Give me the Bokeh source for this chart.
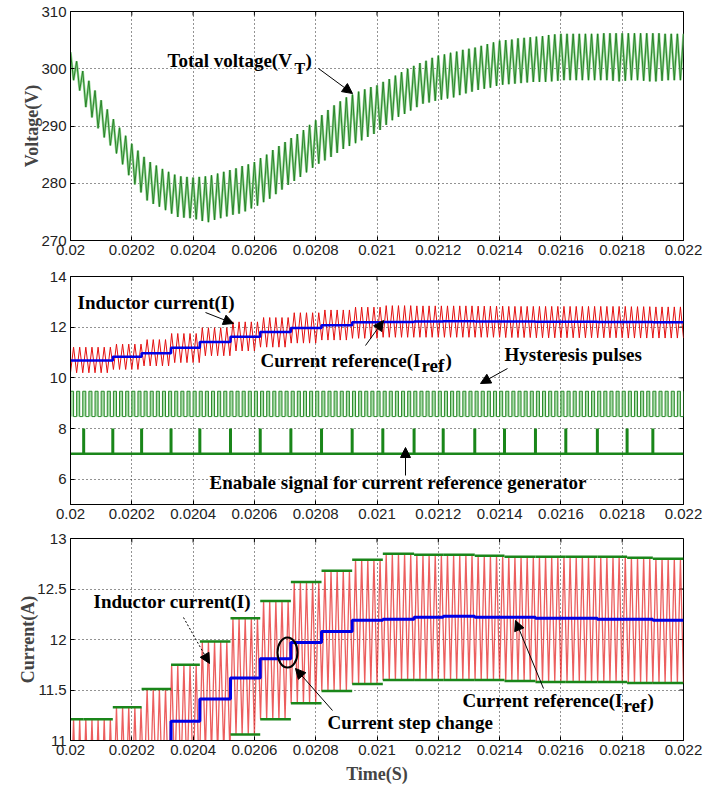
import bisect
from bokeh.plotting import figure
from bokeh.layouts import column
from bokeh.models import FixedTicker, Label, Arrow, NormalHead, Range1d
from bokeh.embed import file_html
from bokeh.resources import INLINE

# ---------------- data ----------------
x_tick_values = [0.02, 0.0202, 0.0204, 0.0206, 0.0208, 0.021, 0.0212, 0.0214, 0.0216, 0.0218, 0.022]
x_tick_labels = ["0.02", "0.0202", "0.0204", "0.0206", "0.0208", "0.021",
                 "0.0212", "0.0214", "0.0216", "0.0218", "0.022"]
v_tick_values = [270, 280, 290, 300, 310]
i2_tick_values = [6, 8, 10, 12, 14]
i3_tick_values = [11, 11.5, 12, 12.5, 13]
i3_tick_labels = ["11", "11.5", "12", "12.5", "13"]

t_start, t_end = 0.02, 0.022
half_period = 1e-5          # ripple / hysteresis half period (20 us cycle)

# total voltage: ripple peak of every cycle (at t_start + k*20us)
v_peaks = [302.9, 301.3, 299.6, 297.9, 296.2, 294.5, 292.9, 291.2, 289.7, 288.3,
           286.9, 285.7, 284.6, 283.7, 283.1, 282.5, 282.0, 281.5, 281.2, 281.1,
           281.0, 281.1, 281.2, 281.4, 281.7, 282.0, 282.3, 282.6, 283.0, 283.3,
           283.7, 284.4, 285.0, 285.8, 286.5, 287.2, 287.9, 288.6, 289.3, 290.2,
           291.0, 291.9, 292.8, 293.6, 294.3, 295.0, 295.5, 296.0, 296.4, 296.8,
           297.1, 297.7, 298.2, 298.8, 299.4, 300.0, 300.5, 301.0, 301.4, 301.9,
           302.3, 302.5, 302.8, 303.0, 303.3, 303.5, 303.7, 304.0, 304.3, 304.6,
           304.9, 305.0, 305.1, 305.3, 305.4, 305.5, 305.6, 305.7, 305.9, 306.0,
           306.1, 306.1, 306.1, 306.1, 306.1, 306.1, 306.1, 306.2, 306.2, 306.2,
           306.2, 306.2, 306.2, 306.2, 306.2, 306.2, 306.2, 306.1, 306.1, 306.1, 306.1]
# total voltage: ripple trough of every cycle (at t_start + 10us + k*20us)
v_troughs = [298.0, 296.2, 293.3, 291.5, 289.6, 288.0, 286.6, 285.2, 283.3, 281.4,
             279.8, 278.4, 277.0, 276.4, 275.9, 275.3, 274.7, 274.1, 274.0, 273.9,
             273.7, 273.4, 273.2, 273.6, 273.9, 274.2, 274.5, 274.7, 275.1, 275.6,
             276.1, 276.7, 277.3, 278.1, 278.9, 279.7, 280.4, 281.1, 281.9, 282.7,
             283.4, 284.0, 284.6, 285.3, 286.0, 286.5, 287.0, 287.5, 288.1, 288.6,
             289.3, 290.2, 291.0, 291.6, 292.1, 292.7, 293.3, 293.9, 294.1, 294.4,
             294.6, 294.8, 295.0, 295.4, 295.7, 296.0, 296.3, 296.5, 296.7, 297.0,
             297.2, 297.3, 297.4, 297.5, 297.6, 297.7, 297.7, 297.7, 297.8, 297.9,
             298.0, 298.0, 298.0, 298.0, 298.0, 298.0, 298.0, 298.0, 297.9, 297.8,
             297.9, 298.0, 298.0, 297.9, 297.8, 297.8, 297.9, 298.0, 298.0, 298.0]

# enable pulses of the current reference generator
enable_times = [0.020043, 0.020138, 0.020232, 0.020328, 0.020422, 0.020522, 0.020619,
                0.020719, 0.020819, 0.020919, 0.021019, 0.021121, 0.021216, 0.021319,
                0.021416, 0.021517, 0.021616, 0.021719, 0.021816, 0.021900]

# per interval between enable pulses (21 intervals)
i_upper = [11.21, 11.21, 11.33, 11.51, 11.75, 11.98, 12.21, 12.38, 12.57, 12.68, 12.79,
           12.85, 12.84, 12.84, 12.83, 12.82, 12.82, 12.82, 12.82, 12.81, 12.80]
i_lower = [10.20, 10.20, 10.33, 10.47, 10.60, 10.87, 11.06, 11.21, 11.37, 11.49, 11.56,
           11.60, 11.60, 11.60, 11.60, 11.59, 11.58, 11.58, 11.58, 11.57, 11.57]
i_ref = [10.68, 10.68, 10.83, 10.97, 11.19, 11.41, 11.62, 11.81, 11.97, 12.08, 12.19,
         12.20, 12.22, 12.23, 12.22, 12.22, 12.21, 12.21, 12.20, 12.20, 12.19]

hyst_low, hyst_high = 8.47, 9.47
enable_low, enable_high = 7.0, 8.0

# ---------------- build traces from the readings ----------------
v_t, v_y = [], []
for k in range(len(v_troughs)):
    v_t += [t_start + 2 * k * half_period, t_start + (2 * k + 1) * half_period]
    v_y += [v_peaks[k], v_troughs[k]]
v_t.append(t_start + 2 * len(v_troughs) * half_period)
v_y.append(v_peaks[len(v_troughs)])

n_half = int(round((t_end - t_start) / half_period))
t_half = [t_start + h * half_period for h in range(n_half + 1)]
cur = []
for h, t in enumerate(t_half):
    k = bisect.bisect_right(enable_times, t)
    cur.append((i_lower if h % 2 == 0 else i_upper)[k])
hyst = [hyst_high if h % 2 == 0 else hyst_low for h in range(n_half + 1)]
bounds = [t_start] + enable_times + [t_end]
ref_y = i_ref + [i_ref[-1]]

SERIF = "Liberation Serif"
SANS = "Liberation Sans"
FRAME_L, FRAME_W = 70, 613
TEXT_SHIFT = 7   # px, raises the labels to the reference baselines


def tx(px):
    return t_start + (px - FRAME_L) * (t_end - t_start) / FRAME_W


def make_fig(height, top, bottom, frame_h, yr, yticks, ylabels=None, ylabel=None, xlabel=None):
    p = figure(width=704, height=height, x_range=Range1d(t_start, t_end),
               y_range=Range1d(*yr), output_backend="svg", toolbar_location=None,
               min_border_left=FRAME_L, min_border_right=704 - FRAME_L - FRAME_W,
               min_border_top=top, min_border_bottom=bottom)
    p.background_fill_color = "white"
    p.border_fill_color = "white"
    p.outline_line_color = "black"
    p.outline_line_alpha = 1
    p.xaxis.ticker = FixedTicker(ticks=x_tick_values)
    p.xaxis.major_label_overrides = {v: l for v, l in zip(x_tick_values, x_tick_labels)}
    p.yaxis.ticker = FixedTicker(ticks=yticks)
    if ylabels:
        p.yaxis.major_label_overrides = {v: l for v, l in zip(yticks, ylabels)}
    p.xgrid.ticker = FixedTicker(ticks=x_tick_values)
    p.ygrid.ticker = FixedTicker(ticks=yticks)
    for g in (p.xgrid, p.ygrid):
        g.grid_line_color = "black"
        g.grid_line_dash = "1 3"
        g.grid_line_alpha = 0.85
        g.grid_line_width = 1
    for ax in (p.xaxis[0], p.yaxis[0]):
        ax.major_label_text_font = SANS
        ax.major_label_text_font_size = "15px"
        ax.major_label_text_color = "#222222"
        ax.axis_line_color = "black"
        ax.major_tick_in = 4
        ax.major_tick_out = 0
        ax.major_tick_line_color = "black"
        ax.minor_tick_line_color = None
        ax.major_label_standoff = 4
        ax.axis_label_text_font = SERIF
        ax.axis_label_text_font_style = "bold"
        ax.axis_label_text_font_size = "18px"
    if ylabel:
        p.yaxis.axis_label = ylabel
        p.yaxis.axis_label_standoff = -4
    if xlabel:
        p.xaxis.axis_label = xlabel
        p.xaxis.axis_label_standoff = 6
    # mirrored tick marks on the top and right edges
    dy = 4 * (yr[1] - yr[0]) / frame_h
    dx = 4 * (t_end - t_start) / FRAME_W
    p.segment(x0=x_tick_values, x1=x_tick_values, y0=[yr[1]] * len(x_tick_values),
              y1=[yr[1] - dy] * len(x_tick_values), line_color="black", line_width=1)
    p.segment(x0=[t_end] * len(yticks), x1=[t_end - dx] * len(yticks), y0=yticks, y1=yticks,
              line_color="black", line_width=1)
    return p


def lab(p, x, y, text, size="19px"):
    p.add_layout(Label(x=x, y=y, text=text, text_font=SERIF, text_font_style="bold",
                       text_font_size=size, text_color="black", text_baseline="alphabetic",
                       text_align="left"))


def arrow(p, x0, y0, x1, y1, dash="solid"):
    p.add_layout(Arrow(end=NormalHead(size=10, fill_color="black", line_color="black"),
                       x_start=x0, y_start=y0, x_end=x1, y_end=y1,
                       line_color="black", line_width=1, line_dash=dash))


# ---------------- panel 1: total voltage ----------------
p1 = make_fig(266, 11, 26, 229, (270, 310), v_tick_values, ylabel="Voltage(V)")
p1.line(v_t, v_y, line_color="#93d593", line_width=2.4)
p1.line(v_t, v_y, line_color="#1f7a1f", line_width=0.9)


def y1(py):
    return 310 - (py - 11) * 40 / 229


lab(p1, tx(167), y1(66.5 - TEXT_SHIFT), "Total voltage(V")
lab(p1, tx(294), y1(75 - TEXT_SHIFT), "T", "16px")
lab(p1, tx(305), y1(66.5 - TEXT_SHIFT), ")")
arrow(p1, tx(318), y1(68), tx(352), y1(93))

# ---------------- panel 2: currents and pulses ----------------
p2 = make_fig(264, 10, 26, 228, (5, 14), i2_tick_values)


def y2(py):
    return 14 - (py - 276) * 9 / 228


p2.line(t_half, cur, line_color="#e41010", line_width=1)
p2.step(bounds, ref_y, mode="after", line_color="#0000e6", line_width=2.5)
p2.varea_step(x=t_half, y1=[hyst_low] * len(t_half), y2=hyst, step_mode="after",
              fill_color="#a8dca8", fill_alpha=1)
p2.step(t_half, hyst, mode="after", line_color="#2a8a2a", line_width=1)
p2.line([t_start, t_end], [enable_low, enable_low], line_color="#1a861a", line_width=2.5)
p2.segment(x0=enable_times, y0=[enable_low] * len(enable_times), x1=enable_times,
           y1=[enable_high] * len(enable_times), line_color="#1a861a", line_width=3)

lab(p2, tx(77), y2(309 - TEXT_SHIFT), "Inductor current(I)")
arrow(p2, tx(205), y2(312), tx(233), y2(323))
lab(p2, tx(260), y2(366.5 - TEXT_SHIFT), "Current reference(I")
lab(p2, tx(421), y2(371.5 - TEXT_SHIFT), "ref")
lab(p2, tx(445), y2(366.5 - TEXT_SHIFT), ")")
arrow(p2, tx(365), y2(345), tx(383), y2(320))
lab(p2, tx(504), y2(361 - TEXT_SHIFT), "Hysteresis pulses")
arrow(p2, tx(507), y2(368), tx(480), y2(383))
lab(p2, tx(209), y2(489 - TEXT_SHIFT), "Enabale signal for current reference generator")
arrow(p2, tx(405), y2(475), tx(405), y2(447))

# ---------------- panel 3: zoom of the inductor current ----------------
p3 = make_fig(261, 8, 51, 202, (11, 13), i3_tick_values, ylabels=i3_tick_labels,
              ylabel="Current(A)", xlabel="Time(S)")


def y3(py):
    return 13 - (py - 538) * 2 / 202


p3.line(t_half, cur, line_color="#e41a1a", line_width=1.3, line_alpha=0.7)
p3.segment(x0=bounds[:-1], x1=bounds[1:], y0=i_upper, y1=i_upper, line_color="#1a861a", line_width=2.5)
p3.segment(x0=bounds[:-1], x1=bounds[1:], y0=i_lower, y1=i_lower, line_color="#1a861a", line_width=2.5)
p3.step(bounds, ref_y, mode="after", line_color="#0000e6", line_width=3)

lab(p3, tx(93), y3(608 - TEXT_SHIFT), "Inductor current(I)")
arrow(p3, tx(183), y3(617), tx(209), y3(663), dash="2 2")
p3.ellipse(x=[tx(287)], y=[y3(652)], width=20 * 0.002 / FRAME_W, height=30 * 2 / 202,
           fill_color=None, line_color="black", line_width=2)
lab(p3, tx(327), y3(729 - TEXT_SHIFT), "Current step change")
arrow(p3, tx(332), y3(710), tx(295), y3(668))
lab(p3, tx(462), y3(707 - TEXT_SHIFT), "Current reference(I")
lab(p3, tx(623), y3(712 - TEXT_SHIFT), "ref")
lab(p3, tx(647), y3(707 - TEXT_SHIFT), ")")
arrow(p3, tx(543), y3(688), tx(515), y3(620))

layout = column(p1, p2, p3)
open("out.html", "w").write(file_html(layout, INLINE))
